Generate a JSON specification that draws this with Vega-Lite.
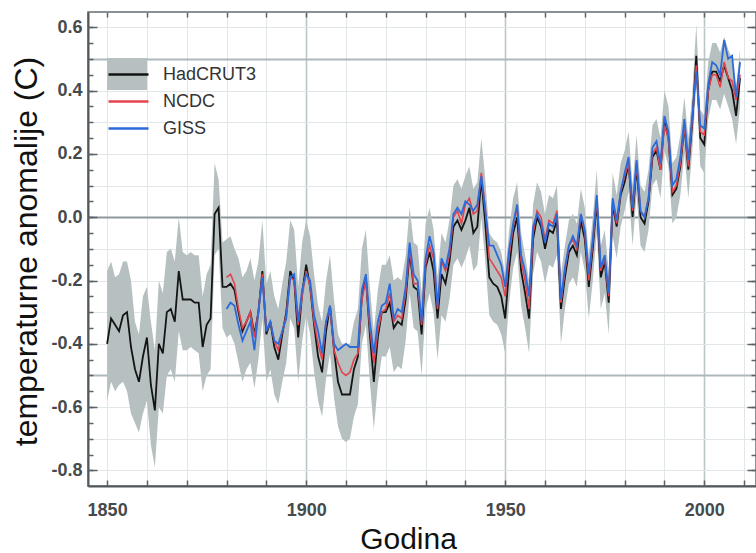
{
"$schema":"https://vega.github.io/schema/vega-lite/v6.json",
"width":668,"height":474,
"autosize":{"type":"none"},
"padding":{"left":88,"top":12,"right":0,"bottom":67},
"background":"white",
"config":{"font":"Liberation Sans","view":{"stroke":"#646c70","strokeWidth":1.5}},
"data":{"values":[
{"year":1850,"had":-0.40,"lo":-0.58,"hi":-0.17},
{"year":1851,"had":-0.32,"lo":-0.52,"hi":-0.14},
{"year":1852,"had":-0.34,"lo":-0.55,"hi":-0.19},
{"year":1853,"had":-0.36,"lo":-0.53,"hi":-0.18},
{"year":1854,"had":-0.31,"lo":-0.52,"hi":-0.14},
{"year":1855,"had":-0.30,"lo":-0.55,"hi":-0.14},
{"year":1856,"had":-0.41,"lo":-0.62,"hi":-0.20},
{"year":1857,"had":-0.48,"lo":-0.65,"hi":-0.33},
{"year":1858,"had":-0.52,"lo":-0.68,"hi":-0.37},
{"year":1859,"had":-0.44,"lo":-0.62,"hi":-0.25},
{"year":1860,"had":-0.38,"lo":-0.58,"hi":-0.22},
{"year":1861,"had":-0.53,"lo":-0.72,"hi":-0.33},
{"year":1862,"had":-0.61,"lo":-0.79,"hi":-0.42},
{"year":1863,"had":-0.40,"lo":-0.60,"hi":-0.20},
{"year":1864,"had":-0.43,"lo":-0.62,"hi":-0.24},
{"year":1865,"had":-0.30,"lo":-0.50,"hi":-0.11},
{"year":1866,"had":-0.29,"lo":-0.48,"hi":-0.10},
{"year":1867,"had":-0.33,"lo":-0.52,"hi":-0.14},
{"year":1868,"had":-0.17,"lo":-0.36,"hi":0.00},
{"year":1869,"had":-0.26,"lo":-0.42,"hi":-0.11},
{"year":1870,"had":-0.26,"lo":-0.42,"hi":-0.12},
{"year":1871,"had":-0.26,"lo":-0.41,"hi":-0.11},
{"year":1872,"had":-0.27,"lo":-0.42,"hi":-0.12},
{"year":1873,"had":-0.27,"lo":-0.43,"hi":-0.12},
{"year":1874,"had":-0.41,"lo":-0.55,"hi":-0.25},
{"year":1875,"had":-0.34,"lo":-0.50,"hi":-0.18},
{"year":1876,"had":-0.32,"lo":-0.48,"hi":-0.15},
{"year":1877,"had":0.01,"lo":-0.12,"hi":0.17},
{"year":1878,"had":0.03,"lo":-0.10,"hi":0.12},
{"year":1879,"had":-0.22,"lo":-0.35,"hi":-0.08},
{"year":1880,"had":-0.22,"ncdc":-0.19,"giss":-0.29,"lo":-0.38,"hi":-0.07},
{"year":1881,"had":-0.21,"ncdc":-0.18,"giss":-0.27,"lo":-0.37,"hi":-0.06},
{"year":1882,"had":-0.23,"ncdc":-0.21,"giss":-0.28,"lo":-0.40,"hi":-0.10},
{"year":1883,"had":-0.30,"ncdc":-0.29,"giss":-0.34,"lo":-0.46,"hi":-0.13},
{"year":1884,"had":-0.36,"ncdc":-0.35,"giss":-0.39,"lo":-0.52,"hi":-0.19},
{"year":1885,"had":-0.33,"ncdc":-0.33,"giss":-0.36,"lo":-0.48,"hi":-0.17},
{"year":1886,"had":-0.30,"ncdc":-0.30,"giss":-0.33,"lo":-0.46,"hi":-0.13},
{"year":1887,"had":-0.37,"ncdc":-0.38,"giss":-0.42,"lo":-0.54,"hi":-0.20},
{"year":1888,"had":-0.30,"ncdc":-0.30,"giss":-0.30,"lo":-0.45,"hi":-0.14},
{"year":1889,"had":-0.17,"ncdc":-0.18,"giss":-0.19,"lo":-0.32,"hi":-0.01},
{"year":1890,"had":-0.37,"ncdc":-0.36,"giss":-0.36,"lo":-0.52,"hi":-0.21},
{"year":1891,"had":-0.33,"ncdc":-0.33,"giss":-0.33,"lo":-0.48,"hi":-0.17},
{"year":1892,"had":-0.41,"ncdc":-0.39,"giss":-0.39,"lo":-0.56,"hi":-0.25},
{"year":1893,"had":-0.45,"ncdc":-0.42,"giss":-0.40,"lo":-0.59,"hi":-0.29},
{"year":1894,"had":-0.37,"ncdc":-0.36,"giss":-0.36,"lo":-0.52,"hi":-0.21},
{"year":1895,"had":-0.30,"ncdc":-0.31,"giss":-0.32,"lo":-0.46,"hi":-0.14},
{"year":1896,"had":-0.17,"ncdc":-0.19,"giss":-0.19,"lo":-0.32,"hi":-0.01},
{"year":1897,"had":-0.20,"ncdc":-0.20,"giss":-0.18,"lo":-0.35,"hi":-0.04},
{"year":1898,"had":-0.38,"ncdc":-0.34,"giss":-0.33,"lo":-0.52,"hi":-0.22},
{"year":1899,"had":-0.24,"ncdc":-0.25,"giss":-0.23,"lo":-0.39,"hi":-0.08},
{"year":1900,"had":-0.15,"ncdc":-0.17,"giss":-0.18,"lo":-0.31,"hi":-0.01},
{"year":1901,"had":-0.22,"ncdc":-0.22,"giss":-0.20,"lo":-0.37,"hi":-0.06},
{"year":1902,"had":-0.34,"ncdc":-0.33,"giss":-0.31,"lo":-0.49,"hi":-0.18},
{"year":1903,"had":-0.44,"ncdc":-0.40,"giss":-0.36,"lo":-0.58,"hi":-0.28},
{"year":1904,"had":-0.49,"ncdc":-0.45,"giss":-0.43,"lo":-0.63,"hi":-0.33},
{"year":1905,"had":-0.36,"ncdc":-0.33,"giss":-0.33,"lo":-0.51,"hi":-0.20},
{"year":1906,"had":-0.28,"ncdc":-0.29,"giss":-0.28,"lo":-0.43,"hi":-0.12},
{"year":1907,"had":-0.42,"ncdc":-0.42,"giss":-0.40,"lo":-0.57,"hi":-0.26},
{"year":1908,"had":-0.52,"ncdc":-0.46,"giss":-0.42,"lo":-0.66,"hi":-0.37},
{"year":1909,"had":-0.56,"ncdc":-0.49,"giss":-0.41,"lo":-0.70,"hi":-0.40},
{"year":1910,"had":-0.56,"ncdc":-0.50,"giss":-0.40,"lo":-0.71,"hi":-0.40},
{"year":1911,"had":-0.56,"ncdc":-0.49,"giss":-0.41,"lo":-0.70,"hi":-0.40},
{"year":1912,"had":-0.48,"ncdc":-0.45,"giss":-0.41,"lo":-0.63,"hi":-0.33},
{"year":1913,"had":-0.44,"ncdc":-0.43,"giss":-0.41,"lo":-0.59,"hi":-0.29},
{"year":1914,"had":-0.25,"ncdc":-0.26,"giss":-0.23,"lo":-0.40,"hi":-0.10},
{"year":1915,"had":-0.19,"ncdc":-0.20,"giss":-0.18,"lo":-0.34,"hi":-0.04},
{"year":1916,"had":-0.37,"ncdc":-0.35,"giss":-0.33,"lo":-0.52,"hi":-0.22},
{"year":1917,"had":-0.52,"ncdc":-0.46,"giss":-0.43,"lo":-0.67,"hi":-0.36},
{"year":1918,"had":-0.38,"ncdc":-0.36,"giss":-0.33,"lo":-0.53,"hi":-0.23},
{"year":1919,"had":-0.30,"ncdc":-0.30,"giss":-0.28,"lo":-0.44,"hi":-0.15},
{"year":1920,"had":-0.30,"ncdc":-0.29,"giss":-0.27,"lo":-0.44,"hi":-0.15},
{"year":1921,"had":-0.27,"ncdc":-0.24,"giss":-0.21,"lo":-0.41,"hi":-0.12},
{"year":1922,"had":-0.35,"ncdc":-0.33,"giss":-0.32,"lo":-0.49,"hi":-0.20},
{"year":1923,"had":-0.33,"ncdc":-0.31,"giss":-0.29,"lo":-0.47,"hi":-0.19},
{"year":1924,"had":-0.34,"ncdc":-0.32,"giss":-0.30,"lo":-0.48,"hi":-0.20},
{"year":1925,"had":-0.26,"ncdc":-0.24,"giss":-0.22,"lo":-0.39,"hi":-0.12},
{"year":1926,"had":-0.11,"ncdc":-0.10,"giss":-0.08,"lo":-0.24,"hi":0.03},
{"year":1927,"had":-0.22,"ncdc":-0.21,"giss":-0.18,"lo":-0.35,"hi":-0.08},
{"year":1928,"had":-0.23,"ncdc":-0.21,"giss":-0.20,"lo":-0.36,"hi":-0.09},
{"year":1929,"had":-0.37,"ncdc":-0.34,"giss":-0.33,"lo":-0.50,"hi":-0.24},
{"year":1930,"had":-0.16,"ncdc":-0.15,"giss":-0.13,"lo":-0.29,"hi":-0.02},
{"year":1931,"had":-0.11,"ncdc":-0.09,"giss":-0.06,"lo":-0.24,"hi":0.03},
{"year":1932,"had":-0.17,"ncdc":-0.13,"giss":-0.11,"lo":-0.30,"hi":-0.04},
{"year":1933,"had":-0.32,"ncdc":-0.29,"giss":-0.28,"lo":-0.45,"hi":-0.19},
{"year":1934,"had":-0.18,"ncdc":-0.14,"giss":-0.13,"lo":-0.31,"hi":-0.05},
{"year":1935,"had":-0.21,"ncdc":-0.17,"giss":-0.16,"lo":-0.33,"hi":-0.08},
{"year":1936,"had":-0.14,"ncdc":-0.12,"giss":-0.10,"lo":-0.26,"hi":-0.01},
{"year":1937,"had":-0.03,"ncdc":0.00,"giss":0.01,"lo":-0.15,"hi":0.10},
{"year":1938,"had":-0.01,"ncdc":0.02,"giss":0.03,"lo":-0.13,"hi":0.12},
{"year":1939,"had":-0.04,"ncdc":-0.02,"giss":0.01,"lo":-0.16,"hi":0.09},
{"year":1940,"had":-0.01,"ncdc":0.04,"giss":0.05,"lo":-0.13,"hi":0.13},
{"year":1941,"had":0.03,"ncdc":0.06,"giss":0.04,"lo":-0.09,"hi":0.16},
{"year":1942,"had":-0.05,"ncdc":0.01,"giss":0.02,"lo":-0.17,"hi":0.09},
{"year":1943,"had":-0.03,"ncdc":0.02,"giss":0.04,"lo":-0.15,"hi":0.11},
{"year":1944,"had":0.12,"ncdc":0.14,"giss":0.13,"lo":0.00,"hi":0.25},
{"year":1945,"had":-0.02,"ncdc":0.03,"giss":0.02,"lo":-0.14,"hi":0.12},
{"year":1946,"had":-0.19,"ncdc":-0.13,"giss":-0.09,"lo":-0.31,"hi":-0.05},
{"year":1947,"had":-0.21,"ncdc":-0.15,"giss":-0.09,"lo":-0.33,"hi":-0.07},
{"year":1948,"had":-0.22,"ncdc":-0.17,"giss":-0.12,"lo":-0.34,"hi":-0.08},
{"year":1949,"had":-0.25,"ncdc":-0.19,"giss":-0.15,"lo":-0.37,"hi":-0.11},
{"year":1950,"had":-0.32,"ncdc":-0.25,"giss":-0.22,"lo":-0.43,"hi":-0.18},
{"year":1951,"had":-0.16,"ncdc":-0.12,"giss":-0.10,"lo":-0.27,"hi":-0.04},
{"year":1952,"had":-0.05,"ncdc":-0.03,"giss":-0.02,"lo":-0.16,"hi":0.06},
{"year":1953,"had":0.00,"ncdc":0.03,"giss":0.04,"lo":-0.11,"hi":0.11},
{"year":1954,"had":-0.17,"ncdc":-0.14,"giss":-0.12,"lo":-0.28,"hi":-0.05},
{"year":1955,"had":-0.24,"ncdc":-0.20,"giss":-0.17,"lo":-0.35,"hi":-0.12},
{"year":1956,"had":-0.32,"ncdc":-0.29,"giss":-0.25,"lo":-0.43,"hi":-0.20},
{"year":1957,"had":-0.07,"ncdc":-0.05,"giss":-0.03,"lo":-0.18,"hi":0.04},
{"year":1958,"had":0.00,"ncdc":0.02,"giss":0.01,"lo":-0.11,"hi":0.11},
{"year":1959,"had":-0.03,"ncdc":0.00,"giss":-0.02,"lo":-0.14,"hi":0.08},
{"year":1960,"had":-0.10,"ncdc":-0.07,"giss":-0.08,"lo":-0.21,"hi":0.01},
{"year":1961,"had":-0.04,"ncdc":-0.01,"giss":-0.02,"lo":-0.15,"hi":0.07},
{"year":1962,"had":-0.05,"ncdc":-0.02,"giss":-0.03,"lo":-0.16,"hi":0.06},
{"year":1963,"had":-0.01,"ncdc":0.02,"giss":0.01,"lo":-0.12,"hi":0.10},
{"year":1964,"had":-0.29,"ncdc":-0.27,"giss":-0.26,"lo":-0.40,"hi":-0.18},
{"year":1965,"had":-0.19,"ncdc":-0.17,"giss":-0.16,"lo":-0.29,"hi":-0.09},
{"year":1966,"had":-0.11,"ncdc":-0.09,"giss":-0.09,"lo":-0.21,"hi":-0.01},
{"year":1967,"had":-0.09,"ncdc":-0.07,"giss":-0.06,"lo":-0.19,"hi":0.01},
{"year":1968,"had":-0.12,"ncdc":-0.10,"giss":-0.09,"lo":-0.22,"hi":-0.02},
{"year":1969,"had":-0.01,"ncdc":0.01,"giss":0.01,"lo":-0.11,"hi":0.09},
{"year":1970,"had":-0.07,"ncdc":-0.05,"giss":-0.04,"lo":-0.17,"hi":0.03},
{"year":1971,"had":-0.22,"ncdc":-0.20,"giss":-0.18,"lo":-0.32,"hi":-0.12},
{"year":1972,"had":-0.10,"ncdc":-0.08,"giss":-0.07,"lo":-0.20,"hi":0.00},
{"year":1973,"had":0.05,"ncdc":0.06,"giss":0.07,"lo":-0.05,"hi":0.15},
{"year":1974,"had":-0.19,"ncdc":-0.17,"giss":-0.16,"lo":-0.29,"hi":-0.09},
{"year":1975,"had":-0.14,"ncdc":-0.13,"giss":-0.12,"lo":-0.24,"hi":-0.04},
{"year":1976,"had":-0.27,"ncdc":-0.25,"giss":-0.24,"lo":-0.37,"hi":-0.17},
{"year":1977,"had":0.04,"ncdc":0.05,"giss":0.06,"lo":-0.06,"hi":0.14},
{"year":1978,"had":-0.03,"ncdc":-0.02,"giss":-0.01,"lo":-0.13,"hi":0.07},
{"year":1979,"had":0.07,"ncdc":0.08,"giss":0.08,"lo":-0.03,"hi":0.17},
{"year":1980,"had":0.11,"ncdc":0.13,"giss":0.14,"lo":0.02,"hi":0.21},
{"year":1981,"had":0.17,"ncdc":0.17,"giss":0.19,"lo":0.08,"hi":0.27},
{"year":1982,"had":0.00,"ncdc":0.02,"giss":0.03,"lo":-0.09,"hi":0.10},
{"year":1983,"had":0.16,"ncdc":0.17,"giss":0.18,"lo":0.07,"hi":0.26},
{"year":1984,"had":0.00,"ncdc":0.02,"giss":0.02,"lo":-0.09,"hi":0.10},
{"year":1985,"had":-0.02,"ncdc":0.00,"giss":0.00,"lo":-0.11,"hi":0.08},
{"year":1986,"had":0.05,"ncdc":0.06,"giss":0.06,"lo":-0.04,"hi":0.15},
{"year":1987,"had":0.19,"ncdc":0.20,"giss":0.22,"lo":0.10,"hi":0.29},
{"year":1988,"had":0.21,"ncdc":0.22,"giss":0.24,"lo":0.12,"hi":0.31},
{"year":1989,"had":0.15,"ncdc":0.15,"giss":0.17,"lo":0.06,"hi":0.25},
{"year":1990,"had":0.30,"ncdc":0.29,"giss":0.32,"lo":0.21,"hi":0.40},
{"year":1991,"had":0.25,"ncdc":0.25,"giss":0.27,"lo":0.16,"hi":0.35},
{"year":1992,"had":0.07,"ncdc":0.08,"giss":0.10,"lo":-0.02,"hi":0.17},
{"year":1993,"had":0.09,"ncdc":0.10,"giss":0.12,"lo":0.00,"hi":0.19},
{"year":1994,"had":0.16,"ncdc":0.17,"giss":0.19,"lo":0.07,"hi":0.26},
{"year":1995,"had":0.29,"ncdc":0.29,"giss":0.31,"lo":0.20,"hi":0.38},
{"year":1996,"had":0.15,"ncdc":0.16,"giss":0.18,"lo":0.06,"hi":0.25},
{"year":1997,"had":0.30,"ncdc":0.31,"giss":0.32,"lo":0.21,"hi":0.39},
{"year":1998,"had":0.51,"ncdc":0.48,"giss":0.46,"lo":0.42,"hi":0.61},
{"year":1999,"had":0.25,"ncdc":0.27,"giss":0.29,"lo":0.16,"hi":0.34},
{"year":2000,"had":0.23,"ncdc":0.26,"giss":0.28,"lo":0.14,"hi":0.32},
{"year":2001,"had":0.40,"ncdc":0.40,"giss":0.42,"lo":0.31,"hi":0.49},
{"year":2002,"had":0.46,"ncdc":0.45,"giss":0.49,"lo":0.37,"hi":0.55},
{"year":2003,"had":0.46,"ncdc":0.45,"giss":0.48,"lo":0.37,"hi":0.55},
{"year":2004,"had":0.43,"ncdc":0.41,"giss":0.45,"lo":0.34,"hi":0.52},
{"year":2005,"had":0.48,"ncdc":0.49,"giss":0.56,"lo":0.39,"hi":0.57},
{"year":2006,"had":0.44,"ncdc":0.44,"giss":0.50,"lo":0.35,"hi":0.53},
{"year":2007,"had":0.40,"ncdc":0.43,"giss":0.51,"lo":0.31,"hi":0.50},
{"year":2008,"had":0.32,"ncdc":0.37,"giss":0.38,"lo":0.23,"hi":0.41},
{"year":2009,"had":0.44,"ncdc":0.45,"giss":0.49,"lo":0.35,"hi":0.53}
]},
"resolve":{"axis":{"x":"independent","y":"independent"}},
"layer":[
{"mark":{"type":"area","opacity":1},
 "encoding":{
  "x":{"field":"year","type":"quantitative","scale":{"domain":[1845.2,2013.0],"nice":false,"zero":false},
   "axis":{"orient":"bottom","values":[1850,1860,1870,1880,1890,1900,1910,1920,1930,1940,1950,1960,1970,1980,1990,2000,2010],"format":"d","labelExpr":"datum.value % 50 === 0 ? datum.label : ''","labelOverlap":false,"labelFlush":false,
    "grid":true,"gridColor":{"condition":{"test":"datum.value % 50 === 0 && datum.value > 1850","value":"#bcc6c9"},"value":"#e1e6e8"},"gridWidth":{"condition":{"test":"datum.value % 50 === 0 && datum.value > 1850","value":1.6},"value":1},
    "tickSize":-6,"tickColor":"#5a6266","tickWidth":1.5,"domainColor":"#51595d","domainWidth":2,
    "labelFont":"Liberation Sans","labelFontWeight":"bold","labelFontSize":18,"labelColor":"#454a4d","labelPadding":21,
    "title":"Godina","titleFont":"Liberation Sans","titleFontSize":30,"titleFontWeight":"normal","titleColor":"#111111","titleX":320,"titleY":62,"titleBaseline":"alphabetic","titleAlign":"center"}},
  "y":{"field":"lo","type":"quantitative","scale":{"domain":[-0.849,0.648],"nice":false,"zero":false},
   "axis":{"orient":"left","values":[-0.8,-0.6,-0.4,-0.2,0,0.2,0.4,0.6],"labelExpr":"replace(format(datum.value, '.1f'), '\u2212', '-')","labelOverlap":false,"labelFlush":false,"grid":false,
    "tickSize":-9,"tickColor":"#5a6266","tickWidth":1.5,"domainColor":"#51595d","domainWidth":2,
    "labelFont":"Liberation Sans","labelFontWeight":"bold","labelFontSize":18,"labelColor":"#454a4d","labelPadding":15,
    "title":"temperaturne anomalije (C)","titleFont":"Liberation Sans","titleFontSize":32,"titleFontWeight":"normal","titleColor":"#111111","titleX":-52,"titleY":239,"titleBaseline":"alphabetic","titleAngle":270,"titleAlign":"center"}},
  "y2":{"field":"hi"},
  "fill":{"datum":"band","scale":{"range":["#b6c0c1"]},
   "legend":{"orient":"none","legendX":29,"legendY":52,"title":null,"padding":0,"symbolType":"M-2,-1.6H2V1.6H-2Z","symbolSize":400,"symbolStrokeWidth":0,"symbolOpacity":1,"labelExpr":"''"}}
 }},
{"mark":{"type":"line","strokeWidth":1.8},
 "encoding":{
  "x":{"field":"year","type":"quantitative","axis":{"orient":"top","values":[1850,1860,1870,1880,1890,1900,1910,1920,1930,1940,1950,1960,1970,1980,1990,2000,2010],"labels":false,"grid":false,"domain":false,"tickSize":-5,"tickColor":"#5a6266","tickWidth":1.5,"title":null}},
  "y":{"field":"had","type":"quantitative","axis":{"orient":"left","values":[-0.8,-0.75,-0.7,-0.65,-0.6,-0.55,-0.5,-0.45,-0.4,-0.35,-0.3,-0.25,-0.2,-0.15,-0.1,-0.05,0,0.05,0.1,0.15,0.2,0.25,0.3,0.35,0.4,0.45,0.5,0.55,0.6],"labels":false,"domain":false,"tickSize":-5,"tickColor":"#5a6266","tickWidth":1.5,"title":null,
    "grid":true,"gridColor":{"condition":[{"test":"datum.value === 0","value":"#8e999c"},{"test":"abs(round(datum.value*100)) % 50 === 0","value":"#aeb8bb"}],"value":"#e1e6e8"},
    "gridOpacity":{"condition":{"test":"abs(round(datum.value*100)) % 10 !== 0","value":0},"value":1},
    "gridWidth":{"condition":{"test":"abs(round(datum.value*100)) % 50 === 0","value":1.8},"value":1}}},
  "stroke":{"datum":"HadCRUT3","scale":{"domain":["HadCRUT3","NCDC","GISS"],"range":["#141414","#e5434b","#2c6ad9"]},
   "legend":{"orient":"none","legendX":29,"legendY":51,"title":null,"padding":0,"symbolType":"M-2,0H2","symbolSize":400,"symbolStrokeWidth":2.5,"labelOffset":23,"rowPadding":6,"labelFont":"Liberation Sans","labelFontSize":18,"labelColor":"#333333"}}
 }},
{"mark":{"type":"line","strokeWidth":1.6},
 "encoding":{
  "x":{"field":"year","type":"quantitative","axis":null},
  "y":{"field":"ncdc","type":"quantitative","axis":{"orient":"right","values":[-0.8,-0.6,-0.4,-0.2,0,0.2,0.4,0.6],"labels":false,"domain":false,"grid":false,"tickSize":-9,"tickColor":"#5a6266","tickWidth":1.5,"title":null}},
  "stroke":{"datum":"NCDC"}
 }},
{"mark":{"type":"line","strokeWidth":1.8},
 "encoding":{
  "x":{"field":"year","type":"quantitative","axis":null},
  "y":{"field":"giss","type":"quantitative","axis":{"orient":"right","values":[-0.8,-0.75,-0.7,-0.65,-0.6,-0.55,-0.5,-0.45,-0.4,-0.35,-0.3,-0.25,-0.2,-0.15,-0.1,-0.05,0,0.05,0.1,0.15,0.2,0.25,0.3,0.35,0.4,0.45,0.5,0.55,0.6],"labels":false,"domain":false,"grid":false,"tickSize":-5,"tickColor":"#5a6266","tickWidth":1.5,"title":null}},
  "stroke":{"datum":"GISS"}
 }}
]
}
